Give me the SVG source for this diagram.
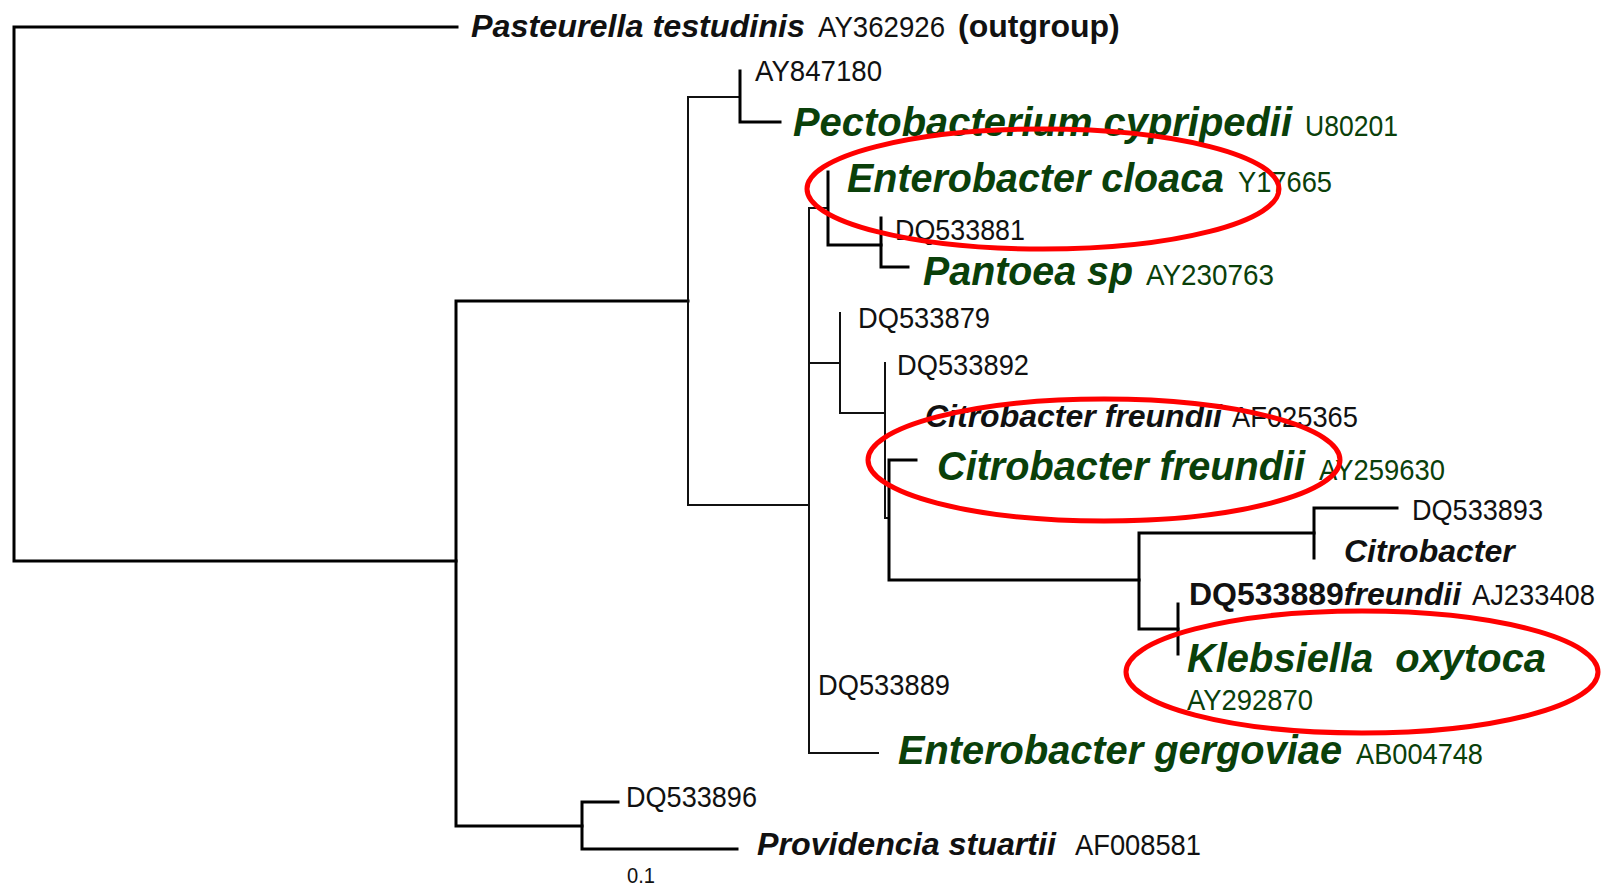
<svg xmlns="http://www.w3.org/2000/svg" width="1606" height="892" viewBox="0 0 1606 892">
<style>
text{font-family:"Liberation Sans",Arial,sans-serif;}
.sp{font-weight:bold;font-style:italic;font-size:32px;fill:#111;}
.gsp{font-weight:bold;font-style:italic;font-size:40px;fill:#0a400a;}
.acc{font-size:30px;fill:#111;}
.gacc{font-size:30px;fill:#0a400a;}
.b{font-weight:bold;font-size:32px;fill:#111;}
.br{fill:none;stroke:#111;stroke-width:2;stroke-linecap:square;}
.bt{fill:none;stroke:#000;stroke-width:3;stroke-linecap:square;}
.ring{fill:none;stroke:#f00;stroke-width:5;}
</style>
<rect width="1606" height="892" fill="#fff"/>
<g id="connectors">
<path class="bt" d="M457,27H14V561H456"/>
<path class="bt" d="M688,301H456V826H582"/>
<path class="bt" d="M618,802H582V849H737"/>
<path class="br" d="M740,97H688V505H809"/>
<path class="bt" d="M740,71V122H780"/>
<path class="br" d="M828,208H809V753H878"/>
<path class="br" d="M809,363H840"/>
<path class="bt" d="M828,172V245H881"/>
<path class="bt" d="M881,218V267H908"/>
<path class="br" d="M840,313V413H885"/>
<path class="br" d="M885,363V518H889"/>
<path class="bt" d="M916,460H889V580H1139"/>
<path class="bt" d="M1314,533H1139V629H1178"/>
<path class="bt" d="M1397,508H1314V558"/>
<path class="bt" d="M1178,604V654"/>
</g>
<g id="n-pasteurella"><text x="471" y="37"><tspan class="sp" textLength="334" lengthAdjust="spacingAndGlyphs">Pasteurella testudinis</tspan><tspan class="acc" x="818" textLength="127" lengthAdjust="spacingAndGlyphs">AY362926</tspan><tspan class="b" x="958">(outgroup)</tspan></text></g>
<g id="n-ay847180"><text class="acc" x="755" y="81" textLength="127" lengthAdjust="spacingAndGlyphs">AY847180</text></g>
<g id="n-pectobacterium"><text class="gsp" x="793" y="136" textLength="499" lengthAdjust="spacingAndGlyphs">Pectobacterium cypripedii</text><text class="gacc" x="1305" y="136" textLength="93" lengthAdjust="spacingAndGlyphs">U80201</text></g>
<g id="n-ecloaca"><text class="gsp" x="847" y="192" textLength="377" lengthAdjust="spacingAndGlyphs">Enterobacter cloaca</text><text class="gacc" x="1238" y="192" textLength="94" lengthAdjust="spacingAndGlyphs">Y17665</text></g>
<g id="n-dq533881"><text class="acc" x="895" y="240" textLength="130" lengthAdjust="spacingAndGlyphs">DQ533881</text></g>
<g id="n-pantoea"><text class="gsp" x="923" y="285" textLength="210" lengthAdjust="spacingAndGlyphs">Pantoea sp</text><text class="gacc" x="1146" y="285" textLength="128" lengthAdjust="spacingAndGlyphs">AY230763</text></g>
<g id="n-dq533879"><text class="acc" x="858" y="328" textLength="132" lengthAdjust="spacingAndGlyphs">DQ533879</text></g>
<g id="n-dq533892"><text class="acc" x="897" y="375" textLength="132" lengthAdjust="spacingAndGlyphs">DQ533892</text></g>
<g id="n-cfreundii1"><text class="sp" x="925" y="427" textLength="297" lengthAdjust="spacingAndGlyphs">Citrobacter freundii</text><text class="acc" x="1232" y="427" textLength="126" lengthAdjust="spacingAndGlyphs">AF025365</text></g>
<g id="n-cfreundii2"><text class="gsp" x="937" y="480" textLength="368" lengthAdjust="spacingAndGlyphs">Citrobacter freundii</text><text class="gacc" x="1319" y="480" textLength="126" lengthAdjust="spacingAndGlyphs">AY259630</text></g>
<g id="n-dq533893"><text class="acc" x="1412" y="520" textLength="131" lengthAdjust="spacingAndGlyphs">DQ533893</text></g>
<g id="n-citrobacter"><text class="sp" x="1344" y="562">Citrobacter</text></g>
<g id="n-dq533889a"><text x="1189" y="605"><tspan class="b">DQ533889</tspan><tspan class="sp">freundii</tspan><tspan class="acc" x="1472" textLength="123" lengthAdjust="spacingAndGlyphs">AJ233408</tspan></text></g>
<g id="n-klebsiella"><text class="gsp" x="1187" y="672" textLength="359" lengthAdjust="spacingAndGlyphs" xml:space="preserve">Klebsiella  oxytoca</text><text class="gacc" x="1187" y="710" textLength="126" lengthAdjust="spacingAndGlyphs">AY292870</text></g>
<g id="n-dq533889b"><text class="acc" x="818" y="695" textLength="132" lengthAdjust="spacingAndGlyphs">DQ533889</text></g>
<g id="n-gergoviae"><text class="gsp" x="898" y="764" textLength="444" lengthAdjust="spacingAndGlyphs">Enterobacter gergoviae</text><text class="gacc" x="1356" y="764" textLength="127" lengthAdjust="spacingAndGlyphs">AB004748</text></g>
<g id="n-dq533896"><text class="acc" x="626" y="807" textLength="131" lengthAdjust="spacingAndGlyphs">DQ533896</text></g>
<g id="n-providencia"><text class="sp" x="757" y="855" textLength="299" lengthAdjust="spacingAndGlyphs">Providencia stuartii</text><text class="acc" x="1075" y="855" textLength="126" lengthAdjust="spacingAndGlyphs">AF008581</text></g>
<g id="scale"><text x="627" y="883" textLength="28" lengthAdjust="spacingAndGlyphs" style="font-size:22px;fill:#111">0.1</text></g>
<g id="highlights">
<ellipse class="ring" cx="1043" cy="189" rx="236" ry="60"/>
<ellipse class="ring" cx="1104" cy="460" rx="236" ry="61"/>
<ellipse class="ring" cx="1362" cy="672" rx="236" ry="61"/>
</g>
</svg>
